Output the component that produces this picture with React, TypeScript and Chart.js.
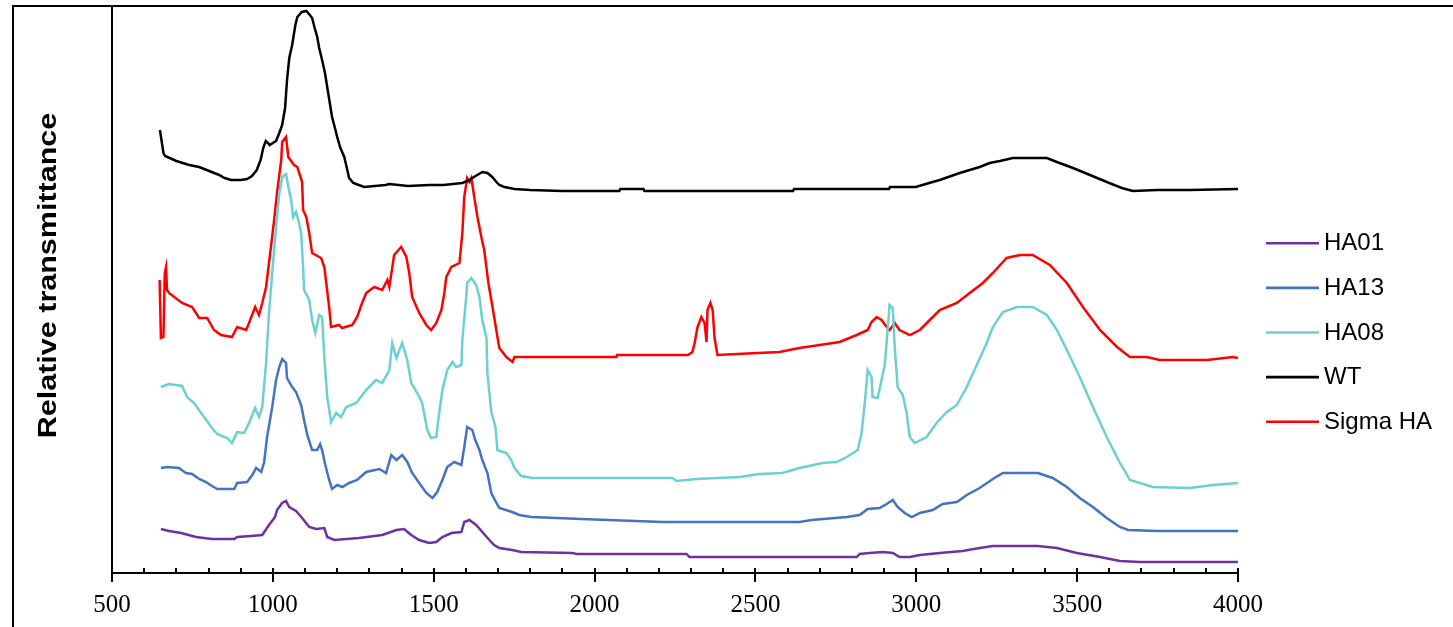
import React, { useEffect, useRef } from "react";
import { Chart, registerables } from "chart.js";

Chart.register(...registerables);

// Wavenumber (cm-1) and relative transmittance (arbitrary units, offset traces)
const HA01: [number, number][] = [
  [652, 44], [677, 42], [715, 40], [761, 36], [811, 34], [880, 34], [889, 36], [932, 37], [967, 38],
  [988, 48], [1007, 56], [1013, 63], [1029, 70], [1041, 72], [1051, 66], [1072, 62], [1091, 55],
  [1113, 46], [1135, 44], [1160, 45], [1169, 36], [1191, 33], [1268, 35], [1340, 38], [1384, 43],
  [1408, 44], [1430, 38], [1455, 33], [1486, 30], [1508, 31], [1527, 36], [1555, 40], [1586, 41],
  [1595, 51], [1611, 53], [1632, 48], [1651, 41], [1673, 33], [1688, 28], [1704, 25], [1744, 23],
  [1772, 21], [1931, 20], [1944, 19], [2286, 19], [2295, 16], [2815, 16], [2824, 19], [2855, 20],
  [2896, 21], [2927, 20], [2948, 16], [2980, 16], [3011, 18], [3073, 20], [3144, 22], [3197, 25],
  [3238, 27], [3378, 27], [3437, 25], [3499, 20], [3571, 16], [3633, 12], [3695, 11], [4000, 11],
];

const HA13: [number, number][] = [
  [652, 105], [671, 106], [708, 105], [730, 100], [749, 99], [771, 94], [792, 91], [811, 87], [827, 84],
  [880, 84], [889, 90], [920, 91], [936, 98], [948, 105], [964, 101], [973, 111], [982, 136], [998, 166],
  [1010, 193], [1020, 206], [1029, 214], [1041, 210], [1044, 195], [1060, 186], [1072, 181], [1088, 168],
  [1097, 153], [1107, 138], [1122, 123], [1138, 123], [1147, 129], [1153, 123], [1163, 108], [1175, 93],
  [1184, 84], [1200, 88], [1216, 86], [1237, 90], [1262, 93], [1290, 101], [1331, 104], [1352, 100],
  [1368, 118], [1384, 113], [1402, 118], [1418, 111], [1433, 100], [1455, 90], [1477, 80], [1496, 75],
  [1511, 81], [1527, 93], [1542, 106], [1564, 111], [1586, 108], [1595, 126], [1604, 146], [1620, 143],
  [1629, 133], [1642, 123], [1651, 113], [1667, 100], [1679, 80], [1695, 70], [1704, 65], [1744, 61],
  [1766, 58], [1804, 56], [1959, 54], [2211, 51], [2637, 51], [2675, 53], [2784, 56], [2824, 58],
  [2849, 64], [2886, 65], [2908, 69], [2927, 73], [2942, 66], [2964, 60], [2986, 56], [3011, 60],
  [3051, 63], [3082, 69], [3126, 71], [3157, 78], [3197, 85], [3238, 94], [3269, 100], [3378, 100],
  [3424, 95], [3468, 86], [3508, 75], [3549, 66], [3592, 55], [3633, 46], [3658, 43], [3748, 42], [4000, 42],
];

const HA08: [number, number][] = [
  [652, 186], [677, 189], [718, 187], [733, 176], [755, 170], [786, 156], [811, 145], [827, 139],
  [858, 135], [873, 130], [889, 141], [911, 140], [926, 150], [945, 165], [957, 156], [967, 166],
  [979, 210], [988, 260], [998, 300], [1010, 346], [1020, 380], [1029, 396], [1041, 399], [1048, 386],
  [1057, 373], [1063, 356], [1072, 361], [1079, 353], [1088, 340], [1094, 306], [1097, 283], [1113, 273],
  [1122, 253], [1132, 240], [1144, 258], [1153, 256], [1160, 216], [1169, 176], [1181, 151], [1197, 160],
  [1212, 156], [1228, 166], [1259, 170], [1290, 183], [1321, 193], [1340, 190], [1362, 203], [1371, 230],
  [1384, 215], [1402, 230], [1418, 213], [1430, 190], [1449, 180], [1464, 170], [1480, 143], [1492, 135],
  [1508, 136], [1517, 160], [1527, 183], [1542, 203], [1558, 211], [1570, 206], [1586, 208], [1589, 233],
  [1601, 276], [1604, 290], [1617, 295], [1632, 288], [1642, 276], [1651, 253], [1664, 235], [1667, 200],
  [1679, 161], [1692, 146], [1698, 123], [1726, 120], [1741, 113], [1751, 105], [1772, 97], [1807, 95],
  [1912, 95], [2242, 95], [2255, 92], [2317, 94], [2451, 96], [2513, 99], [2584, 100], [2637, 105],
  [2709, 110], [2752, 111], [2784, 116], [2818, 123], [2830, 140], [2840, 170], [2849, 203], [2861, 196],
  [2864, 176], [2880, 175], [2892, 193], [2902, 208], [2911, 243], [2917, 268], [2927, 265], [2933, 226],
  [2942, 186], [2958, 178], [2970, 160], [2980, 136], [2995, 130], [3032, 136], [3063, 150], [3095, 161],
  [3126, 168], [3157, 186], [3188, 208], [3219, 230], [3238, 246], [3269, 261], [3313, 266], [3362, 266],
  [3406, 258], [3437, 243], [3468, 223], [3508, 196], [3549, 166], [3592, 136], [3633, 110], [3664, 93],
  [3736, 86], [3851, 85], [3922, 88], [4000, 90],
];

const WT: [number, number][] = [
  [649, 443], [660, 420], [665, 417], [700, 412], [740, 408], [771, 406], [802, 402], [833, 398],
  [850, 395], [870, 393], [900, 393], [920, 394], [935, 397], [950, 403], [962, 413], [970, 425],
  [978, 432], [985, 430], [990, 428], [1000, 430], [1010, 432], [1020, 440], [1029, 448], [1038, 465],
  [1044, 493], [1051, 515], [1060, 528], [1070, 548], [1076, 556], [1090, 561], [1104, 562], [1115, 558],
  [1122, 555], [1130, 545], [1138, 536], [1144, 525], [1153, 513], [1162, 500], [1169, 486], [1177, 470],
  [1184, 456], [1193, 445], [1200, 436], [1210, 425], [1222, 416], [1230, 405], [1237, 395], [1250, 390],
  [1259, 389], [1284, 386], [1350, 388], [1362, 389], [1420, 387], [1486, 388], [1530, 388], [1560, 389],
  [1589, 390], [1611, 393], [1630, 397], [1651, 401], [1667, 400], [1682, 396], [1695, 391], [1704, 388],
  [1720, 386], [1751, 384], [1800, 383], [1900, 382], [2077, 382], [2080, 384], [2152, 384], [2155, 382],
  [2617, 382], [2620, 384], [2915, 384], [2918, 386], [2998, 386], [3040, 390], [3073, 393], [3135, 400],
  [3197, 406], [3228, 410], [3260, 412], [3300, 415], [3406, 415], [3437, 411], [3487, 405], [3540, 398],
  [3592, 391], [3639, 385], [3673, 382], [3750, 383], [3850, 383], [4000, 384],
];

const SIGMA_HA: [number, number][] = [
  [648, 293], [652, 235], [660, 236], [664, 300], [668, 306], [671, 283], [677, 280], [718, 270],
  [749, 266], [771, 255], [796, 255], [817, 243], [839, 238], [873, 236], [889, 246], [917, 243],
  [926, 250], [945, 266], [957, 258], [967, 270], [979, 286], [1004, 353], [1013, 380], [1026, 413],
  [1029, 431], [1041, 436], [1048, 416], [1066, 408], [1076, 406], [1091, 391], [1094, 363], [1104, 356],
  [1113, 340], [1122, 320], [1150, 315], [1160, 306], [1166, 290], [1175, 266], [1181, 246], [1206, 248],
  [1215, 245], [1247, 248], [1262, 256], [1275, 268], [1290, 280], [1315, 286], [1340, 283], [1356, 293],
  [1362, 286], [1377, 318], [1399, 326], [1415, 316], [1424, 300], [1433, 276], [1455, 260], [1477, 248],
  [1492, 243], [1508, 250], [1524, 263], [1533, 280], [1539, 296], [1555, 306], [1580, 310], [1589, 340],
  [1595, 376], [1604, 395], [1611, 391], [1617, 395], [1626, 376], [1636, 356], [1648, 336], [1657, 323],
  [1670, 290], [1688, 256], [1698, 236], [1704, 225], [1726, 216], [1745, 211], [1751, 216], [2068, 216],
  [2070, 218], [2290, 218], [2304, 221], [2311, 230], [2320, 246], [2332, 256], [2342, 250], [2348, 231],
  [2351, 263], [2360, 270], [2367, 263], [2373, 235], [2382, 218], [2507, 220], [2575, 221], [2637, 225],
  [2700, 228], [2762, 231], [2815, 238], [2849, 243], [2861, 251], [2877, 256], [2892, 253], [2908, 246],
  [2917, 243], [2933, 250], [2948, 243], [2980, 238], [3011, 243], [3042, 253], [3073, 263], [3126, 270],
  [3166, 280], [3207, 290], [3238, 300], [3281, 315], [3322, 318], [3362, 318], [3415, 308], [3468, 290],
  [3518, 266], [3571, 243], [3624, 226], [3664, 216], [3717, 216], [3757, 213], [3904, 213], [3984, 216],
  [4000, 215],
];

const SERIES_LABELS = ["HA01", "HA13", "HA08", "WT", "Sigma HA"];
const SERIES_COLORS = ["#7030A0", "#4472C4", "#6CD0D0", "#000000", "#FF0000"];
const SERIES_DATA = [HA01, HA13, HA08, WT, SIGMA_HA];

const X_MIN = 500;
const X_MAX = 4000;
const X_MAJOR = 500;
const X_MINOR = 100;
const Y_TITLE = "Relative transmittance";

const decorPlugin = {
  id: "decor",
  afterDraw(chart: any) {
    const ctx = chart.ctx as CanvasRenderingContext2D;
    const area = chart.chartArea;
    const xs = chart.scales.x;
    ctx.save();
    ctx.strokeStyle = "#000";
    ctx.lineWidth = 2;
    // outer frame
    ctx.strokeRect(13, 6, 1600, 800);
    // axes
    ctx.beginPath();
    ctx.moveTo(area.left, 6);
    ctx.lineTo(area.left, area.bottom);
    ctx.lineTo(area.right, area.bottom);
    ctx.stroke();
    // tick marks
    ctx.beginPath();
    for (let v = X_MIN; v <= X_MAX; v += X_MINOR) {
      const px = Math.round(xs.getPixelForValue(v));
      if (v % X_MAJOR === 0) {
        ctx.moveTo(px, area.bottom - 5);
        ctx.lineTo(px, area.bottom + 9);
      } else {
        ctx.moveTo(px, area.bottom - 5);
        ctx.lineTo(px, area.bottom);
      }
    }
    ctx.stroke();
    // y title (stretched along its length like the original)
    ctx.save();
    ctx.translate(49.5, 275.5);
    ctx.rotate(-Math.PI / 2);
    ctx.scale(1.22, 1);
    ctx.fillStyle = "#000";
    ctx.font = 'bold 25px "Liberation Sans", Arial, sans-serif';
    ctx.textAlign = "center";
    ctx.textBaseline = "middle";
    ctx.fillText(Y_TITLE, 0, 0);
    ctx.restore();
    // legend
    ctx.font = '24px "Liberation Sans", Arial, sans-serif';
    ctx.textAlign = "left";
    ctx.textBaseline = "middle";
    chart.data.datasets.forEach((ds: any, i: number) => {
      const y = 243.3 + i * 44.6;
      ctx.strokeStyle = ds.borderColor;
      ctx.lineWidth = 2.6;
      ctx.beginPath();
      ctx.moveTo(1266, y);
      ctx.lineTo(1319, y);
      ctx.stroke();
      ctx.fillStyle = "#000";
      ctx.fillText(ds.label, 1324, y + 0.5);
    });
    ctx.restore();
  },
};

export default function App() {
  const canvasRef = useRef<HTMLCanvasElement | null>(null);

  useEffect(() => {
    if (!canvasRef.current) return;
    const chart = new Chart(canvasRef.current, {
      type: "line",
      data: {
        datasets: SERIES_DATA.map((d, i) => ({
          label: SERIES_LABELS[i],
          data: d.map(([x, y]) => ({ x, y })),
          borderColor: SERIES_COLORS[i],
          backgroundColor: SERIES_COLORS[i],
          borderWidth: 2.5,
          pointRadius: 0,
          tension: 0,
          fill: false,
        })),
      },
      options: {
        animation: false,
        responsive: true,
        maintainAspectRatio: false,
        layout: { padding: { top: 6, right: 215, left: 0, bottom: 0 } },
        plugins: { legend: { display: false }, tooltip: { enabled: false } },
        scales: {
          x: {
            type: "linear",
            min: X_MIN,
            max: X_MAX,
            afterFit: (s: any) => {
              s.height = 54;
            },
            grid: { display: false, drawTicks: false },
            border: { display: false },
            ticks: {
              stepSize: X_MAJOR,
              autoSkip: false,
              maxRotation: 0,
              color: "#000",
              padding: 17,
              font: { family: '"Liberation Serif", "Times New Roman", serif', size: 25 },
              callback: (v: any) => String(v),
            },
          },
          y: {
            min: 0,
            max: 567,
            afterFit: (s: any) => {
              s.width = 112;
            },
            grid: { display: false, drawTicks: false },
            border: { display: false },
            ticks: { display: false },
          },
        },
      },
      plugins: [decorPlugin],
    });
    return () => chart.destroy();
  }, []);

  return (
    <div style={{ position: "absolute", left: 0, top: 0, width: 1453, height: 627, background: "#fff" }}>
      <canvas ref={canvasRef} />
    </div>
  );
}
